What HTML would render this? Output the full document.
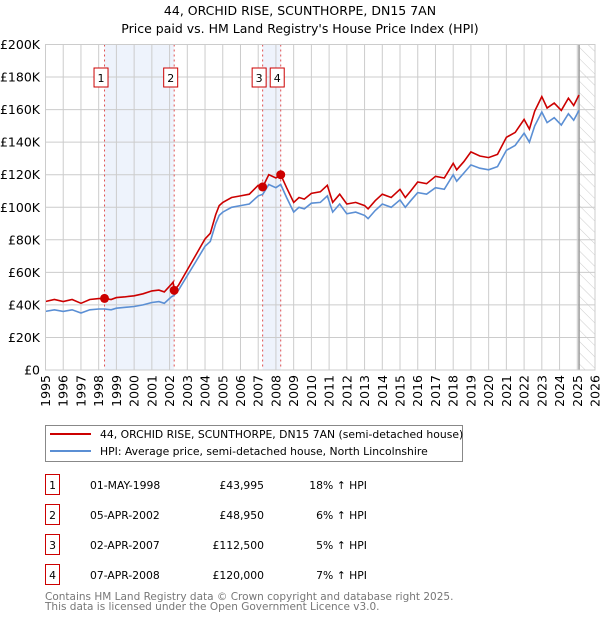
<!DOCTYPE html>
<html><head><meta charset="utf-8"><style>
body{margin:0;background:#fff;font-family:"DejaVu Sans","Liberation Sans",sans-serif;}
svg{display:block}
</style></head><body>
<svg id="c" width="600" height="620" xmlns="http://www.w3.org/2000/svg" font-family="DejaVu Sans, Liberation Sans, sans-serif">
<text x="300" y="15" text-anchor="middle" font-size="12.5">44, ORCHID RISE, SCUNTHORPE, DN15 7AN</text>
<text x="300" y="33" text-anchor="middle" font-size="12.5">Price paid vs. HM Land Registry's House Price Index (HPI)</text>
<defs><pattern id="hatch" width="8" height="8" patternUnits="userSpaceOnUse" patternTransform="rotate(-45)"><line x1="0" y1="0" x2="0" y2="8" stroke="#ccc" stroke-width="1"/></pattern></defs>
<g id="plot"></g>
<g>
<rect x="45.5" y="425.5" width="417" height="36" fill="#fff" stroke="#888"/>
<line x1="50" y1="434" x2="91" y2="434" stroke="#cc0000" stroke-width="2"/>
<text x="100" y="438" font-size="10.8">44, ORCHID RISE, SCUNTHORPE, DN15 7AN (semi-detached house)</text>
<line x1="50" y1="451" x2="91" y2="451" stroke="#5b8fd4" stroke-width="2"/>
<text x="100" y="455" font-size="10.8">HPI: Average price, semi-detached house, North Lincolnshire</text>
</g>
<g id="tbl" font-size="10.8"></g>
<text x="45" y="600" font-size="10.5" fill="#777">Contains HM Land Registry data © Crown copyright and database right 2025.</text>
<text x="45" y="610" font-size="10.5" fill="#777">This data is licensed under the Open Government Licence v3.0.</text>
</svg>
<script>
const times=[1995,1995.5,1996,1996.5,1997,1997.5,1998,1998.33,1998.7,1999,1999.5,2000,2000.5,2001,2001.4,2001.7,2002.1,2002.2,2002.26,2002.5,2003,2003.5,2004,2004.3,2004.6,2004.8,2005,2005.5,2006,2006.5,2007,2007.26,2007.6,2008,2008.27,2008.6,2009,2009.3,2009.6,2010,2010.5,2010.9,2011.2,2011.6,2012,2012.5,2013,2013.2,2013.6,2014,2014.5,2015,2015.3,2015.6,2016,2016.5,2017,2017.5,2018,2018.2,2018.6,2019,2019.5,2020,2020.5,2021,2021.5,2022,2022.3,2022.6,2023,2023.3,2023.7,2024.1,2024.5,2024.8,2025.1];
const hpiValues=[36,37,36,37,35,37,37.5,37.5,37,38,38.5,39,40,41.5,42,41,45,45.5,46,49,58,67,76,79,90,95,97,100,101,102,107,108,114,112,114,106,97,100,99,102.5,103,107,97,102,96,97,95,93,98,102,100,104.5,100,104,109,108,112,111,120,116,121,126,124,123,125,135,138,145.5,140,150,158.5,152,155,150.5,157.5,153.5,159.5];
const priceValues=[42.1,43.3,42.1,43.3,41,43.3,43.9,44,43.3,44.5,45,45.6,46.8,48.6,49.1,48,52.7,54,49,52,61.5,71,80.5,84,95.5,101,103,106,107,108,113.5,112.5,120,118,120,112,103,106,105,108.5,109.5,113.5,103,108,102,103,101,99,104,108,106,111,106,110,115.5,114.5,119,118,127,123,128,134,131.5,130.5,132.5,143,146,154,148,159,168,161,164,159.5,167,162.5,169];
const saleTimes=[1998.33,2002.26,2007.25,2008.27];
const saleValues=[43.995,48.95,112.5,120];
const saleLabels=["1","2","3","4"];
const saleDates=["01-MAY-1998","05-APR-2002","02-APR-2007","07-APR-2008"];
const salePrices=["£43,995","£48,950","£112,500","£120,000"];
const salePcts=["18% ↑ HPI","6% ↑ HPI","5% ↑ HPI","7% ↑ HPI"];
const yTicks=[0,20,40,60,80,100,120,140,160,180,200];
const yTickLabels=["£0","£20K","£40K","£60K","£80K","£100K","£120K","£140K","£160K","£180K","£200K"];
const xTicks=[1995,1996,1997,1998,1999,2000,2001,2002,2003,2004,2005,2006,2007,2008,2009,2010,2011,2012,2013,2014,2015,2016,2017,2018,2019,2020,2021,2022,2023,2024,2025,2026];
const dataEnd=2025.1;

const NS="http://www.w3.org/2000/svg";
const X0=45.5,X1=595,Y0=370,Y1=44.5;
const xs=t=>X0+(t-1995)*(X1-X0)/31;
const ys=v=>Y0-v*(Y0-Y1)/200;
const plot=document.getElementById('plot');
function mk(tag,attrs,parent){const e=document.createElementNS(NS,tag);for(const k in attrs)e.setAttribute(k,attrs[k]);(parent||plot).appendChild(e);return e;}

for(let i=0;i<4;i+=2){
 const b=mk('rect',{x:xs(saleTimes[i]),y:Y1,width:xs(saleTimes[i+1])-xs(saleTimes[i]),height:Y0-Y1,fill:'#eef3fc'});
 
 
}
const h=mk('rect',{x:xs(dataEnd),y:Y1,width:X1-xs(dataEnd),height:Y0-Y1,fill:'url(#hatch)'});


yTicks.forEach((v,i)=>{
 const g=mk('line',{x1:X0,x2:X1,y1:ys(v),y2:ys(v),stroke:'#ccc'});
 
 
 const t=mk('text',{x:40,y:ys(v)+4.5,'text-anchor':'end','font-size':'12.5'});
 t.textContent=yTickLabels[i];
 
 
});
xTicks.forEach(v=>{
 const g=mk('line',{x1:xs(v),x2:xs(v),y1:Y1,y2:Y0,stroke:'#ccc'});
 
 
 const t=mk('text',{x:0,y:0,'text-anchor':'end','font-size':'12.5',transform:`translate(${xs(v)+4.5},375) rotate(-90)`});
 t.textContent=v;
 
 
});
const el=mk('line',{x1:xs(dataEnd),x2:xs(dataEnd),y1:Y1,y2:Y0,stroke:'#999','stroke-width':1.5});


saleTimes.forEach(t=>{
 const l=mk('line',{x1:xs(t),x2:xs(t),y1:Y1,y2:Y0,stroke:'#e05050','stroke-dasharray':'2,3'});
 
 
});
const pts=arr=>arr.map((v,i)=>xs(times[i]).toFixed(1)+','+ys(v).toFixed(1)).join(' ');
const hl=mk('polyline',{points:pts(hpiValues),fill:'none',stroke:'#5b8fd4','stroke-width':1.6});


const pl=mk('polyline',{points:pts(priceValues),fill:'none',stroke:'#cc0000','stroke-width':1.6});


saleTimes.forEach((t,i)=>{
 const c=mk('circle',{cx:xs(t),cy:ys(saleValues[i]),r:4.5,fill:'#cc0000'});
 
 
 const bx=xs(t)-3.5;
 const r=mk('rect',{x:bx-7,y:68,width:14,height:19,fill:'#fff',stroke:'#cc0000'});
 
 
 const tx=mk('text',{x:bx,y:82,'text-anchor':'middle','font-size':'11'});
 tx.textContent=saleLabels[i];
 
 
});
const pb=mk('rect',{x:X0,y:Y1,width:X1-X0,height:Y0-Y1,fill:'none',stroke:'#ccc'});



const tbl=document.getElementById('tbl');
saleLabels.forEach((s,i)=>{
 const cy=483+i*30;
 const r=mk('rect',{x:45.5,y:cy-8.5,width:14,height:20,fill:'#fff',stroke:'#cc0000'},tbl);
 
 
 const cells=[[52.5,'middle',s,'table-row-number'],[90,'start',saleDates[i],'table-date'],[264,'end',salePrices[i],'table-price'],[367,'end',salePcts[i],'table-hpi-change']];
 cells.forEach(c=>{
  const t=mk('text',{x:c[0],y:cy+6,'text-anchor':c[1]},tbl);
  t.textContent=c[2];
  
  
 });
});
</script>
</body></html>
